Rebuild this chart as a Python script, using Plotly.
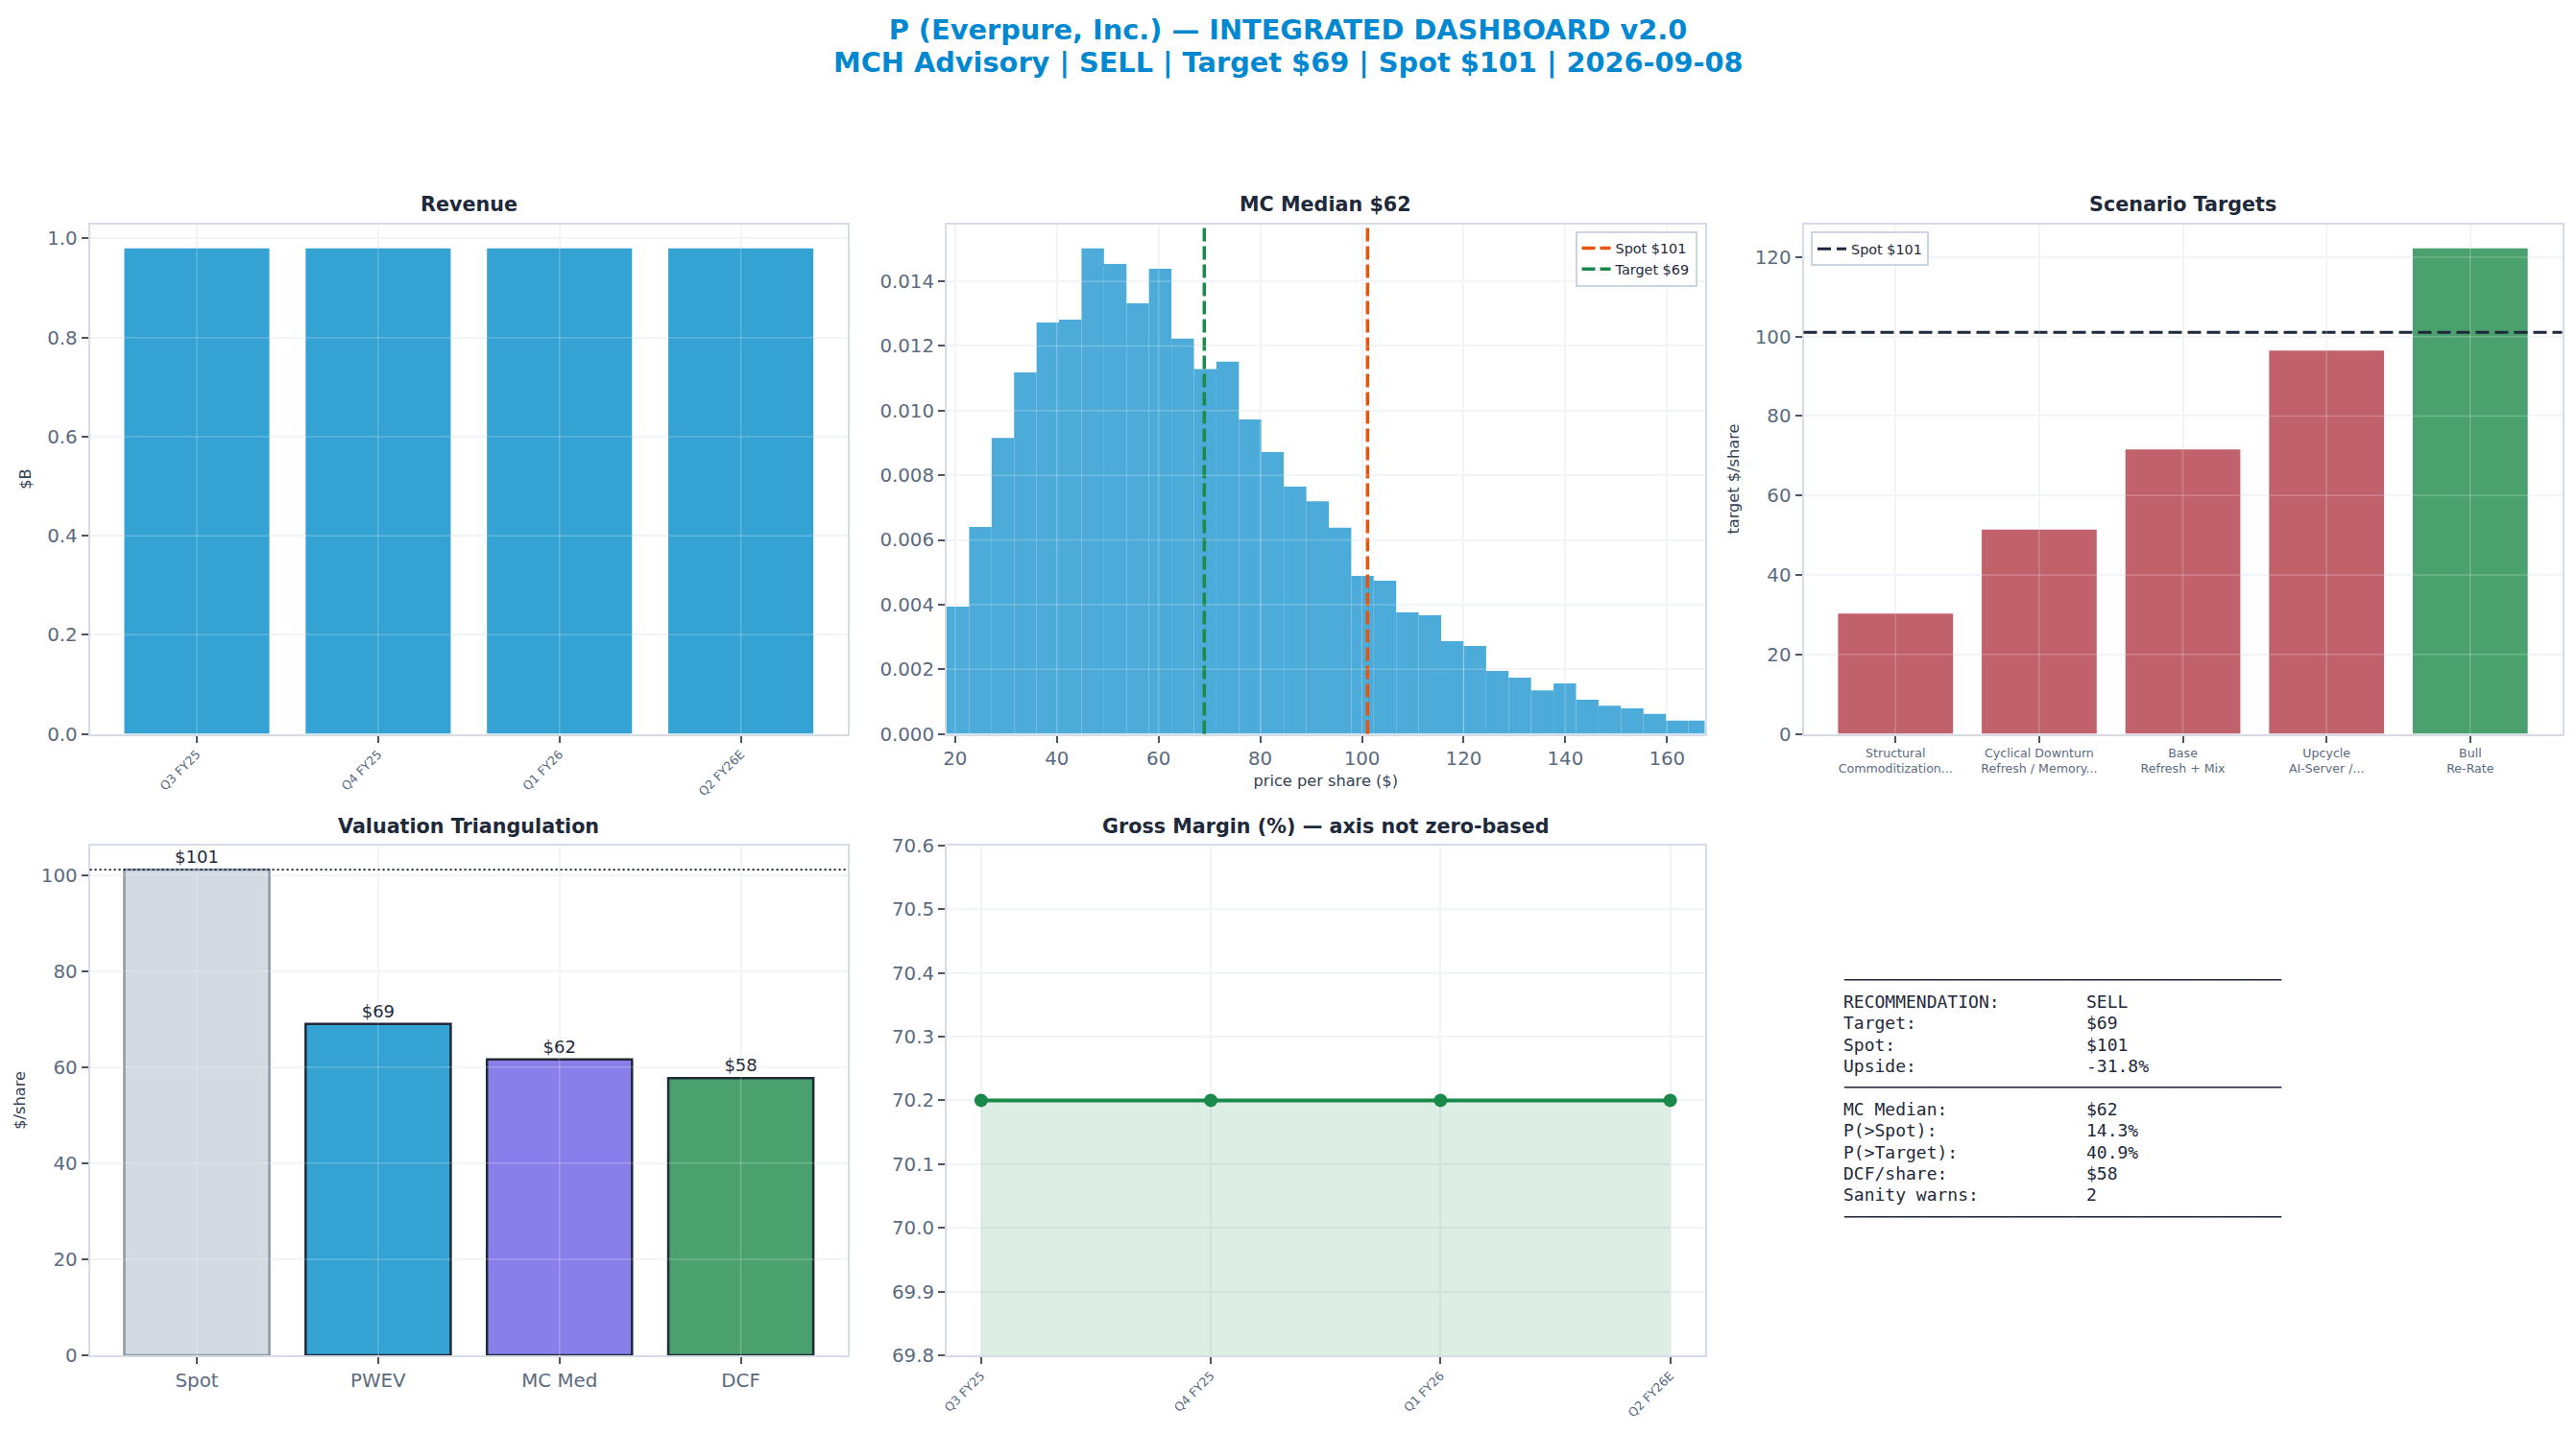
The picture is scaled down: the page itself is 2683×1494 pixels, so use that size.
import plotly.graph_objects as go

W, H = 2683, 1494
OFF = 8  # page body margin offset compensation

# ---------------- data ----------------
quarters = ["Q3 FY25", "Q4 FY25", "Q1 FY26", "Q2 FY26E"]
revenue_b = [0.98, 0.98, 0.98, 0.98]
gross_margin = [70.2, 70.2, 70.2, 70.2]

hist_start = 18.34
hist_width = 4.42
hist_density = [0.00394, 0.00640, 0.00916, 0.01118, 0.01273, 0.01282, 0.01502,
                0.01454, 0.01332, 0.01439, 0.01223, 0.01129, 0.01152, 0.00973,
                0.00872, 0.00765, 0.00720, 0.00638, 0.00489, 0.00474, 0.00376,
                0.00367, 0.00287, 0.00272, 0.00195, 0.00174, 0.00135, 0.00156,
                0.00106, 0.00087, 0.00079, 0.00062, 0.00041, 0.00041]
hist_xmax = 167.4

spot = 101.1
target = 69.0
mc_median = 61.6
dcf_share = 57.7

scenario_labels = ["Structural<br>Commoditization...", "Cyclical Downturn<br>Refresh / Memory...",
                   "Base<br>Refresh + Mix", "Upcycle<br>AI-Server /...", "Bull<br>Re-Rate"]
scenario_targets = [30.3, 51.4, 71.6, 96.5, 122.2]

val_labels = ["Spot", "PWEV", "MC Med", "DCF"]
val_values = [spot, target, mc_median, dcf_share]
val_text = ["$101", "$69", "$62", "$58"]

summary_top = [("RECOMMENDATION:", "SELL"), ("Target:", "$69"), ("Spot:", "$101"), ("Upside:", "-31.8%")]
summary_bottom = [("MC Median:", "$62"), ("P(>Spot):", "14.3%"), ("P(>Target):", "40.9%"),
                  ("DCF/share:", "$58"), ("Sanity warns:", "2")]

title_line1 = "P (Everpure, Inc.) — INTEGRATED DASHBOARD v2.0"
title_line2 = "MCH Advisory | SELL | Target $69 | Spot $101 | 2026-09-08"

# ---------------- style ----------------
FONT = "DejaVu Sans"
TITLE_C = "#1e293b"
TICK_C = "#5b6b7f"
SPINE_C = "#d6dce6"
GRID_C = "#f0f3f7"
BLUE = "#34a2d2"
HIST_BLUE = "#4cabd8"
RED = "#c1616c"
GREEN = "#4aa16e"
PURPLE = "#8a7fea"
SPOT_GREY = "#d3dae2"
ORANGE = "#e6550d"
DKGREEN = "#1a8a4a"
BRAND = "#0288d1"


def px_x(p):
    return (p - OFF) / W


def px_y(p):
    return 1 - (p - OFF) / H


col_x = [(93.6, 883.0), (986.0, 1775.5), (1878.5, 2668.6)]
row_y = [(233.5, 764.6), (880.8, 1412.0)]


def dom_x(c):
    return [px_x(col_x[c][0]), px_x(col_x[c][1])]


def dom_y(r):
    return [px_y(row_y[r][1]), px_y(row_y[r][0])]


def axis_style(**kw):
    d = dict(showline=True, mirror=True, linecolor=SPINE_C, linewidth=2,
             ticks="outside", ticklen=7, tickwidth=1.5, tickcolor="#4b5563",
             showgrid=True, gridcolor=GRID_C, gridwidth=1.5, zeroline=False, automargin=False,
             tickfont=dict(family=FONT, size=19.8, color=TICK_C))
    d.update(kw)
    return d


fig = go.Figure()

# 1. Revenue
fig.add_trace(go.Bar(x=list(range(len(quarters))), y=revenue_b, marker=dict(color=BLUE, line=dict(width=0)),
                     width=0.8, xaxis="x", yaxis="y", showlegend=False, name="Revenue"))

# 2. MC histogram
hist_left = [hist_start + i * hist_width for i in range(len(hist_density))]
fig.add_trace(go.Bar(x=hist_left, y=hist_density, width=[hist_width] * len(hist_density), offset=0,
                     marker=dict(color=HIST_BLUE, line=dict(width=0)),
                     xaxis="x2", yaxis="y2", showlegend=False, name="MC density"))

# 3. Scenario targets
scen_colors = [GREEN if v > spot else RED for v in scenario_targets]
fig.add_trace(go.Bar(x=list(range(len(scenario_targets))), y=scenario_targets, width=0.8,
                     marker=dict(color=scen_colors, line=dict(width=0)),
                     xaxis="x3", yaxis="y3", showlegend=False, name="Scenario"))

# 4. Valuation triangulation
fig.add_trace(go.Bar(x=list(range(len(val_values))), y=val_values, width=0.8,
                     marker=dict(color=[SPOT_GREY, BLUE, PURPLE, GREEN],
                                 line=dict(color=["#8d98a5", "#1f2937", "#1f2937", "#1f2937"], width=2.5)),
                     text=val_text, textposition="outside", cliponaxis=False,
                     textfont=dict(family=FONT, size=18, color=TITLE_C),
                     xaxis="x4", yaxis="y4", showlegend=False, name="Valuation"))

# 5. Gross margin
fig.add_trace(go.Scatter(x=list(range(len(quarters))), y=gross_margin, mode="lines+markers",
                         line=dict(color=DKGREEN, width=4), marker=dict(color=DKGREEN, size=14),
                         fill="tozeroy", fillcolor="rgba(26,138,74,0.15)",
                         xaxis="x5", yaxis="y5", showlegend=False, name="Gross margin"))

rev_top = max(revenue_b) * 1.05
hist_top = max(hist_density) * 1.05
scen_top = max(scenario_targets) * 1.05
val_top = max(val_values) * 1.05

rev_ticks = [0.0, 0.2, 0.4, 0.6, 0.8, 1.0]
hist_xticks = [20, 40, 60, 80, 100, 120, 140, 160]
hist_yticks = [0.0, 0.002, 0.004, 0.006, 0.008, 0.010, 0.012, 0.014]
scen_ticks = [0, 20, 40, 60, 80, 100, 120]
val_ticks = [0, 20, 40, 60, 80, 100]
gm_ticks = [69.8, 69.9, 70.0, 70.1, 70.2, 70.3, 70.4, 70.5, 70.6]

small_tick = dict(family=FONT, size=12.6, color=TICK_C)
ytitle_font = dict(family=FONT, size=16.2, color="#334155")

fig.update_layout(
    width=W, height=H, margin=dict(l=0, r=0, t=0, b=0, autoexpand=False),
    paper_bgcolor="white", plot_bgcolor="white",
    font=dict(family=FONT, color=TITLE_C),
    bargap=0.2,
    title=dict(text=title_line1, x=0.5 - OFF / W, xanchor="center", y=px_y(30.5), yanchor="middle",
               yref="container", xref="container",
               font=dict(family=FONT, size=28.8, color=BRAND, weight="bold")),
    xaxis=axis_style(domain=dom_x(0), anchor="y", range=[-0.59, len(quarters) - 0.41],
                     tickmode="array", tickvals=list(range(len(quarters))), ticktext=quarters,
                     tickangle=-45, tickfont=small_tick),
    yaxis=axis_style(domain=dom_y(0), anchor="x", range=[0, rev_top], tickvals=rev_ticks,
                     tickformat=".1f", title=dict(text="$B", font=ytitle_font, standoff=12)),
    xaxis2=axis_style(domain=dom_x(1), anchor="y2", range=[hist_start, hist_xmax], tickvals=hist_xticks,
                      title=dict(text="price per share ($)", font=ytitle_font, standoff=6)),
    yaxis2=axis_style(domain=dom_y(0), anchor="x2", range=[0, hist_top], tickvals=hist_yticks, tickformat=".3f"),
    xaxis3=axis_style(domain=dom_x(2), anchor="y3", range=[-0.64, len(scenario_targets) - 0.36],
                      tickmode="array", tickvals=list(range(len(scenario_targets))), ticktext=scenario_labels,
                      tickfont=small_tick),
    yaxis3=axis_style(domain=dom_y(0), anchor="x3", range=[0, scen_top], tickvals=scen_ticks,
                      title=dict(text="target $/share", font=ytitle_font, standoff=12)),
    xaxis4=axis_style(domain=dom_x(0), anchor="y4", range=[-0.59, len(val_values) - 0.41],
                      tickmode="array", tickvals=list(range(len(val_values))), ticktext=val_labels),
    yaxis4=axis_style(domain=dom_y(1), anchor="x4", range=[0, val_top], tickvals=val_ticks,
                      title=dict(text="$/share", font=ytitle_font, standoff=12)),
    xaxis5=axis_style(domain=dom_x(1), anchor="y5", range=[-0.15, len(quarters) - 0.85],
                      tickmode="array", tickvals=list(range(len(quarters))), ticktext=quarters,
                      tickangle=-45, tickfont=small_tick),
    yaxis5=axis_style(domain=dom_y(1), anchor="x5", range=[gm_ticks[0], gm_ticks[-1]], tickvals=gm_ticks,
                      tickformat=".1f"),
    legend=dict(x=px_x(1767.5), xanchor="right", y=px_y(240.6), yanchor="top",
                bgcolor="white", bordercolor="#cbd5e1", borderwidth=2,
                font=dict(family=FONT, size=14.4, color=TITLE_C), itemwidth=30),
    legend2=dict(x=px_x(1886), xanchor="left", y=px_y(241.4), yanchor="top",
                 bgcolor="white", bordercolor="#cbd5e1", borderwidth=2,
                 font=dict(family=FONT, size=14.4, color=TITLE_C), itemwidth=30),
)

# second title line
fig.add_annotation(text=title_line2, xref="paper", yref="paper", x=0.5 - OFF / W, y=px_y(64.5),
                   xanchor="center", yanchor="middle", showarrow=False,
                   font=dict(family=FONT, size=28.8, color=BRAND, weight="bold"))

# reference lines (with legend entries)
fig.add_shape(type="line", xref="x2", yref="y2 domain", x0=spot, x1=spot, y0=0, y1=1,
              line=dict(color=ORANGE, width=3.5, dash="14px,5px"),
              showlegend=True, name=f"Spot ${spot:.0f}", legend="legend")
fig.add_shape(type="line", xref="x2", yref="y2 domain", x0=target, x1=target, y0=0, y1=1,
              line=dict(color=DKGREEN, width=3.5, dash="14px,5px"),
              showlegend=True, name=f"Target ${target:.0f}", legend="legend")
fig.add_shape(type="line", xref="x3 domain", yref="y3", x0=0, x1=1, y0=spot, y1=spot,
              line=dict(color=TITLE_C, width=3, dash="14px,6px"),
              showlegend=True, name=f"Spot ${spot:.0f}", legend="legend2")
fig.add_shape(type="line", xref="x4 domain", yref="y4", x0=0, x1=1, y0=spot, y1=spot,
              line=dict(color=TITLE_C, width=2, dash="2px,3px"))

# faint grid drawn over bars (as in the reference)
OVER = "rgba(255,255,255,0.22)"


def over_grid(xa, ya, xv, yv):
    for v in xv:
        fig.add_shape(type="line", xref=xa, yref=ya + " domain", x0=v, x1=v, y0=0, y1=1,
                      line=dict(color=OVER, width=1.5), layer="above")
    for v in yv:
        fig.add_shape(type="line", xref=xa + " domain", yref=ya, x0=0, x1=1, y0=v, y1=v,
                      line=dict(color=OVER, width=1.5), layer="above")


over_grid("x", "y", list(range(len(quarters))), rev_ticks[1:])
over_grid("x2", "y2", hist_xticks, hist_yticks[1:])
over_grid("x3", "y3", list(range(len(scenario_targets))), scen_ticks[1:])
over_grid("x4", "y4", list(range(len(val_values))), val_ticks[1:])

# subplot titles
titles = [("Revenue", 0, 0), ("MC Median $62", 1, 0), ("Scenario Targets", 2, 0),
          ("Valuation Triangulation", 0, 1), ("Gross Margin (%) — axis not zero-based", 1, 1)]
for t, c, r in titles:
    dx = dom_x(c)
    fig.add_annotation(text=t, xref="paper", yref="paper", x=(dx[0] + dx[1]) / 2, y=dom_y(r)[1],
                       xanchor="center", yanchor="bottom", yshift=6, showarrow=False,
                       font=dict(family=FONT, size=20.7, color=TITLE_C, weight="bold"))

# summary text block
MONO = dict(family="DejaVu Sans Mono", size=18, color=TITLE_C)
rule = "─" * 42
rows = [(rule, "")] + summary_top + [(rule, "")] + summary_bottom + [(rule, "")]
block_top = 1020.8
step = 22.41
for i, (lab, val) in enumerate(rows):
    ypx = block_top + i * step
    fig.add_annotation(text=lab, xref="paper", yref="paper", x=px_x(1918), y=px_y(ypx),
                       xanchor="left", yanchor="middle", showarrow=False, font=MONO)
    if val:
        fig.add_annotation(text=val, xref="paper", yref="paper", x=px_x(2171), y=px_y(ypx),
                           xanchor="left", yanchor="middle", showarrow=False, font=MONO)

fig.write_html("out.html")
